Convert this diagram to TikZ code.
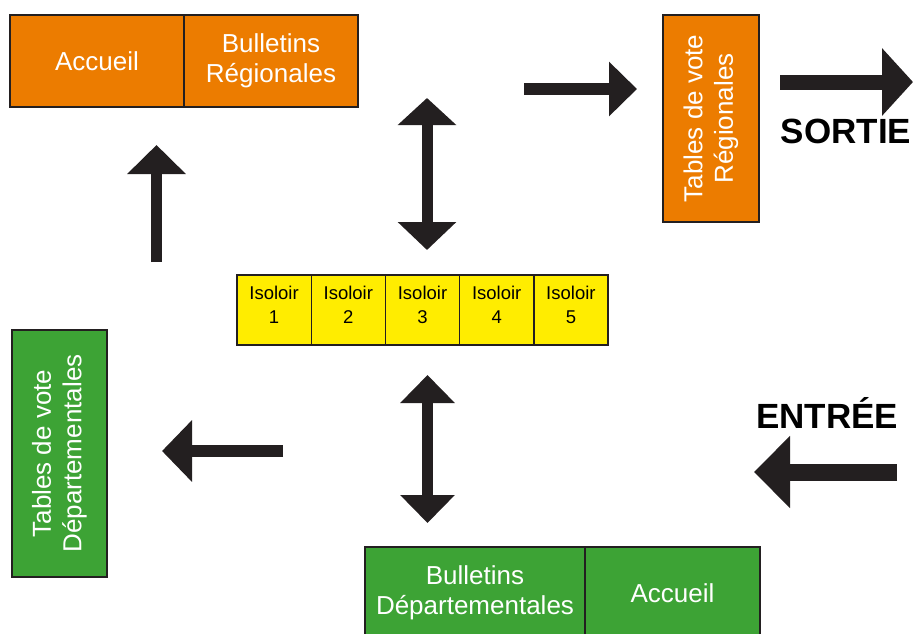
\documentclass[tikz,border=0pt]{standalone}
\usepackage{fontspec}
\setmainfont{Liberation Sans}
\usetikzlibrary{arrows.meta,positioning}
\definecolor{orangeR}{RGB}{236,124,0}
\definecolor{greenD}{RGB}{61,163,53}
\definecolor{isoyellow}{RGB}{255,237,0}
\definecolor{boxline}{RGB}{35,31,32}
\definecolor{arrowgray}{RGB}{35,31,32}
\begin{document}
\begin{tikzpicture}[x=1pt,y=-1pt,
	box/.style={draw=boxline,line width=1.4pt,inner sep=0pt,outer sep=0pt,
		text=white,align=center,font=\fontsize{26}{30.5}\selectfont},
	orangebox/.style={box,fill=orangeR},
	greenbox/.style={box,fill=greenD},
	isobox/.style={box,fill=isoyellow,text=black,minimum width=74.2pt,
		minimum height=70pt,font=\fontsize{18.5}{24}\selectfont},
	bigarrow/.style={draw=arrowgray,line width=#1},
	sign/.style={font=\fontsize{35}{40}\selectfont\bfseries,inner sep=0pt}]
	\clip (0,0) rectangle (914,633);
	% regional side
	\node[orangebox,anchor=north west,minimum width=174pt,minimum height=92pt] (accueilR) at (10,15) {Accueil};
	\node[orangebox,right=0pt of accueilR,minimum width=174pt,minimum height=92pt] (bulletinsR) {Bulletins\\Régionales};
	\node[orangebox,rotate=90,minimum width=207pt,minimum height=96pt] (tablesR) at (711,118.5) {Tables de vote\\Régionales};
	% isoloirs
	\node[isobox,anchor=north west] (iso1) at (237,275) {Isoloir\\1\rule[-11pt]{0pt}{11pt}};
	\foreach \i/\p in {2/1,3/2,4/3,5/4}
		\node[isobox,right=0pt of iso\p] (iso\i) {Isoloir\\\i\rule[-11pt]{0pt}{11pt}};
	% departmental side
	\node[greenbox,rotate=90,minimum width=247pt,minimum height=95pt] (tablesD) at (59.5,453.5) {Tables de vote\\Départementales};
	\node[greenbox,anchor=north west,minimum width=220pt,minimum height=92pt] (bulletinsD) at (365,547) {Bulletins\\Départementales};
	\node[greenbox,right=0pt of bulletinsD,minimum width=175pt,minimum height=92pt] (accueilD) {Accueil};
	% labels
	\node[sign,anchor=base] (sortie) at (846,143) {SORTIE};
	\node[sign,anchor=base] (entree) at (827,428) {ENTRÉE};
	% arrow ends
	\coordinate (upS) at (156.5,262);
	\coordinate (upE) at (156.5,145);
	\coordinate (dtS) at (427,98);
	\coordinate (dtE) at (427,250);
	\coordinate (rtS) at (524,89);
	\coordinate (rtE) at (637,89);
	\coordinate (soS) at (780,82);
	\coordinate (soE) at (913,82);
	\coordinate (dbS) at (427.5,375);
	\coordinate (dbE) at (427.5,523);
	\coordinate (ltS) at (283,451);
	\coordinate (ltE) at (162,451);
	\coordinate (enS) at (897,472);
	\coordinate (enE) at (754,472);
	% arrows
	\draw[bigarrow=11pt,-{Triangle[length=29pt,width=57pt]}] (upS) -- (upE);
	\draw[bigarrow=11pt,{Triangle[length=27pt,width=57pt]}-{Triangle[length=28pt,width=57pt]}] (dtS) -- (dtE);
	\draw[bigarrow=12pt,-{Triangle[length=28pt,width=53pt]}] (rtS) -- (rtE);
	\draw[bigarrow=15pt,-{Triangle[length=31pt,width=66pt]}] (soS) -- (soE);
	\draw[bigarrow=11pt,{Triangle[length=28pt,width=53pt]}-{Triangle[length=28pt,width=53pt]}] (dbS) -- (dbE);
	\draw[bigarrow=12pt,-{Triangle[length=30pt,width=60pt]}] (ltS) -- (ltE);
	\draw[bigarrow=17pt,-{Triangle[length=36pt,width=70pt]}] (enS) -- (enE);
\end{tikzpicture}
\end{document}
